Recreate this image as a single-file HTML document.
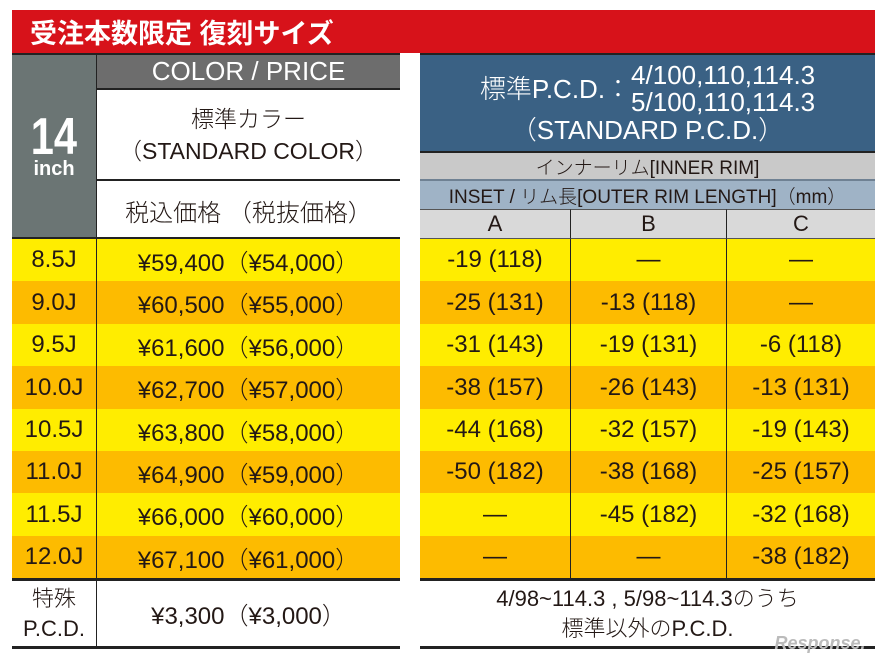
<!DOCTYPE html>
<html><head><meta charset="utf-8">
<style>
body{margin:0;width:888px;height:665px;background:#fff;overflow:hidden;position:relative;font-family:"Liberation Sans","Noto Sans CJK JP",sans-serif;color:#231815}
.a{position:absolute;box-sizing:border-box;display:flex;align-items:center;justify-content:center;text-align:center;white-space:nowrap;font-weight:300}
</style></head><body>
<div class="a" style="left:12px;top:10px;width:863px;height:43px;background:#d7121a;color:#fff;justify-content:flex-start;padding-left:18px;font:bold 27px 'Liberation Sans','Noto Sans CJK JP',sans-serif">受注本数限定 復刻サイズ</div>

<div class="a" style="left:12px;top:53px;width:85px;height:186px;background:#6b7574;color:#fff;flex-direction:column;font-family:'Liberation Sans',sans-serif;font-weight:bold;border-right:1px solid #222"><div style="font-size:52px;line-height:46px;transform:scaleX(0.8)">14</div><div style="font-size:20px;line-height:18px">inch</div></div>
<div class="a" style="left:97px;top:55px;width:303px;height:35px;background:#6d6d6d;color:#fff;font-size:26px;border-bottom:2px solid #222">COLOR / PRICE</div>
<div class="a" style="left:97px;top:90px;width:303px;height:91px;flex-direction:column;font-size:23px;line-height:32px;border-bottom:2px solid #222"><div>標準カラー</div><div>（STANDARD COLOR）</div></div>
<div class="a" style="left:97px;top:181px;width:303px;height:58px;font-size:24px">税込価格 （税抜価格）</div>
<div class="a" style="left:12px;top:53px;width:388px;height:2px;background:#222"></div>

<div class="a" style="left:420px;top:53px;width:455px;height:98px;background:#3a6184;color:#fff;font-size:26px;flex-direction:column;line-height:28px;border-top:2px solid #222"><div style="display:flex;align-items:center"><span>標準P.C.D.：</span><span style="display:inline-block;text-align:left;line-height:27px">4/100,110,114.3<br>5/100,110,114.3</span></div><div>（STANDARD P.C.D.）</div></div>
<div class="a" style="left:420px;top:151px;width:455px;height:30px;background:#c9c9c9;font-size:19px;border-top:2px solid #222;border-bottom:2px solid #6f8193">インナーリム[INNER RIM]</div>
<div class="a" style="left:420px;top:181px;width:455px;height:28px;background:#9fb3c6;font-size:19px">INSET / リム長[OUTER RIM LENGTH]（mm）</div>
<div id="rows"></div>
<div class="a" style="left:12px;top:580px;width:85px;height:67px;font-size:22px;flex-direction:column;line-height:30px;border-right:1px solid #222"><div>特殊</div><div>P.C.D.</div></div>
<div class="a" style="left:97px;top:580px;width:303px;height:67px;font-size:24px">¥3,300（¥3,000）</div>
<div class="a" style="left:420px;top:580px;width:455px;height:67px;font-size:22px;flex-direction:column;line-height:30px"><div>4/98~114.3 , 5/98~114.3のうち</div><div>標準以外のP.C.D.</div></div>
<div class="a" style="left:12px;top:578px;width:388px;height:3px;background:#222"></div>
<div class="a" style="left:12px;top:646px;width:388px;height:3px;background:#222"></div>
<div class="a" style="left:420px;top:578px;width:455px;height:3px;background:#222"></div>
<div class="a" style="left:420px;top:646px;width:455px;height:3px;background:#222"></div>
<div class="a" style="left:760px;top:630px;width:120px;height:26px;color:#bbb;font:italic bold 18px 'Liberation Sans',sans-serif">Response.</div>
<script>
const cols=["A","B","C"];
const widths=["8.5J","9.0J","9.5J","10.0J","10.5J","11.0J","11.5J","12.0J"];
const prices=["¥59,400","¥60,500","¥61,600","¥62,700","¥63,800","¥64,900","¥66,000","¥67,100"];
const netPrices=["¥54,000","¥55,000","¥56,000","¥57,000","¥58,000","¥59,000","¥60,000","¥61,000"];
const colA=["-19 (118)","-25 (131)","-31 (143)","-38 (157)","-44 (168)","-50 (182)","—","—"];
const colB=["—","-13 (118)","-19 (131)","-26 (143)","-32 (157)","-38 (168)","-45 (182)","—"];
const colC=["—","—","-6 (118)","-13 (131)","-19 (143)","-25 (157)","-32 (168)","-38 (182)"];
const host=document.getElementById('rows');
const top0=239,rh=42.4;
const colX=[420,571,727,875];
function cell(x,y,w,h,txt,bg,fs,extra){const d=document.createElement('div');d.className='a';d.style.cssText=`left:${x}px;top:${y}px;width:${w}px;height:${h}px;background:${bg};font-size:${fs}px;${extra||''}`;d.textContent=txt;host.appendChild(d);return d;}
cols.forEach((c,i)=>{const d=cell(colX[i],209,colX[i+1]-colX[i],30,c,'#d9d9d9',22,(i<2?'border-right:1px solid #222;':'')+'border-top:1px solid #555;border-bottom:1px solid #555');

});
const lt=cell(12,237,388,3,'','#222',1);


widths.forEach((w,r)=>{const y=top0+r*rh,bg=r%2?'#fdbb00':'#ffed00';
const a=cell(12,y,85,rh+0.5,w,bg,24,'border-right:1px solid #222');


const p=cell(97,y,303,rh+0.5,prices[r]+'（'+netPrices[r]+'）',bg,24);


[colA,colB,colC].forEach((arr,i)=>{const d=cell(colX[i],y,colX[i+1]-colX[i],rh+0.5,arr[r],bg,24,i<2?'border-right:1px solid #222':'');

});});
</script>
</body></html>
